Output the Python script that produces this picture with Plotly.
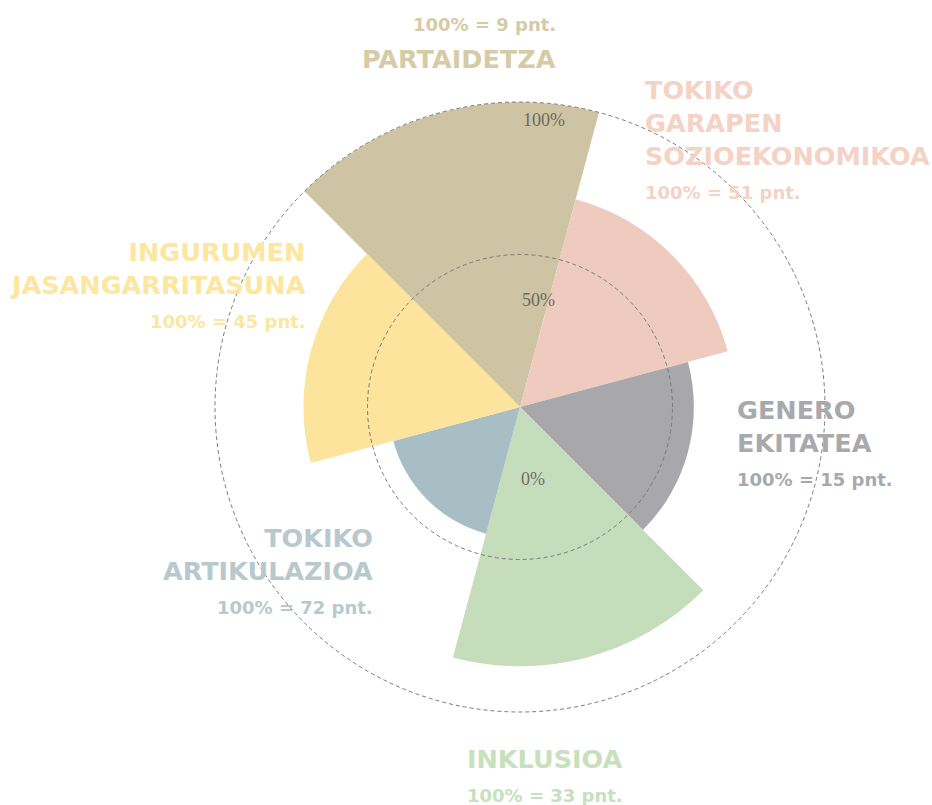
import plotly.graph_objects as go

# ---- data ----
categories = ["PARTAIDETZA", "TOKIKO GARAPEN SOZIOEKONOMIKOA", "GENERO EKITATEA",
              "INKLUSIOA", "TOKIKO ARTIKULAZIOA", "INGURUMEN JASANGARRITASUNA"]
values_pct = [100, 70.5, 57, 85, 43, 71]
points_100 = [9, 51, 15, 33, 72, 45]
title_lines = [["PARTAIDETZA"], ["TOKIKO", "GARAPEN", "SOZIOEKONOMIKOA"], ["GENERO", "EKITATEA"],
               ["INKLUSIOA"], ["TOKIKO", "ARTIKULAZIOA"], ["INGURUMEN", "JASANGARRITASUNA"]]
bar_colors = ["#CEC3A3", "#EFCBBF", "#A8A8AC", "#C5DDBB", "#A7BEC4", "#FCE49D"]
text_colors = ["#D6CBA6", "#F4D2C6", "#A8A9AC", "#C7E0BE", "#B7C9CD", "#FDE6A0"]
radial_tick_labels = ["0%", "50%", "100%"]
circle_ticks = [50, 100]

W, H = 932, 805
CX, CY, R = 520, 407, 305
EXT = 1.1                    # overlay subplot extends beyond 100 so the 100 circle is drawn


def px2x(px):
    return px / W


def px2y(py):
    return 1 - py / H


fig = go.Figure()
fig.add_trace(go.Barpolar(
    r=values_pct, theta=categories,
    marker=dict(color=bar_colors, line=dict(width=0)),
    subplot="polar", hoverinfo="skip", showlegend=False))
# overlay subplot for dashed reference circles drawn above the bars
fig.add_trace(go.Scatterpolar(r=[], theta=[], subplot="polar2", showlegend=False))

dom_x = [(CX - R) / W, (CX + R) / W]
dom_y = [(H - CY - R) / H, (H - CY + R) / H]
R2 = R * EXT
dom2_x = [(CX - R2) / W, (CX + R2) / W]
dom2_y = [(H - CY - R2) / H, (H - CY + R2) / H]

fig.update_layout(
    width=W, height=H, margin=dict(l=0, r=0, t=0, b=0),
    paper_bgcolor="white", plot_bgcolor="white", showlegend=False,
    polar=dict(
        domain=dict(x=dom_x, y=dom_y), bgcolor="rgba(0,0,0,0)", bargap=0,
        angularaxis=dict(direction="clockwise", rotation=105, visible=False),
        radialaxis=dict(range=[0, 100], visible=False)),
    polar2=dict(
        domain=dict(x=dom2_x, y=dom2_y), bgcolor="rgba(0,0,0,0)",
        angularaxis=dict(showgrid=False, showline=False, showticklabels=False, ticks=""),
        radialaxis=dict(range=[0, 100 * EXT], tickvals=circle_ticks, showticklabels=False,
                        showline=False, ticks="", gridcolor="#7a7a7a", gridwidth=1,
                        griddash="4px,3px")),
)

# category labels: (x anchor px, y centre of title block px, subtitle y px, align)
label_layout = [
    (558, 59, 25, "right"),
    (643, 123, 192.5, "left"),
    (735, 426.5, 479, "left"),
    (465, 758.5, 795, "left"),
    (375, 554, 607, "right"),
    (308, 269, 321.5, "right"),
]
for lines, pts, col, (px, ty, sy, al) in zip(title_lines, points_100, text_colors, label_layout):
    fig.add_annotation(x=px2x(px), y=px2y(ty), xref="paper", yref="paper",
                       xanchor=al, yanchor="middle", align=al, showarrow=False,
                       text="<br>".join(lines),
                       font=dict(family="DejaVu Sans", size=25.5, weight="bold", color=col))
    fig.add_annotation(x=px2x(px), y=px2y(sy), xref="paper", yref="paper",
                       xanchor=al, yanchor="middle", align=al, showarrow=False,
                       text=f"100% = {pts} pnt.",
                       font=dict(family="DejaVu Sans", size=18, weight="bold", color=col))

# radial percentage labels
tick_pos = [(532.5, 479), (538, 300), (543.5, 120)]
for lab, (px, py) in zip(radial_tick_labels, tick_pos):
    fig.add_annotation(x=px2x(px), y=px2y(py), xref="paper", yref="paper",
                       xanchor="center", yanchor="middle", showarrow=False, text=lab,
                       font=dict(family="Liberation Serif", size=18, color="rgba(80,80,80,0.8)"))

fig.write_html("out.html",
               config={"displayModeBar": False},
               post_script="document.body.style.margin='0px';"
                           "document.body.style.overflow='hidden';")
